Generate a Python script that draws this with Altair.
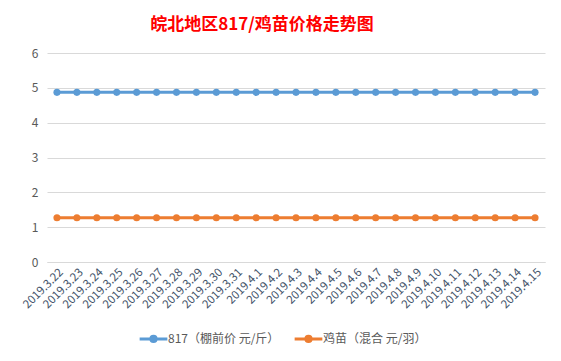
import altair as alt
import pandas as pd

dates = ["2019.3.22", "2019.3.23", "2019.3.24", "2019.3.25", "2019.3.26", "2019.3.27",
         "2019.3.28", "2019.3.29", "2019.3.30", "2019.3.31", "2019.4.1", "2019.4.2",
         "2019.4.3", "2019.4.4", "2019.4.5", "2019.4.6", "2019.4.7", "2019.4.8",
         "2019.4.9", "2019.4.10", "2019.4.11", "2019.4.12", "2019.4.13", "2019.4.14",
         "2019.4.15"]
series_names = ["817（棚前价 元/斤）", "鸡苗（混合 元/羽）"]
price_817 = [4.87] * 25
price_chick = [1.27] * 25
colors = ["#5b9bd5", "#ed7d31"]

rows = []
for d, v in zip(dates, price_817):
    rows.append({"date": d, "series": series_names[0], "value": v})
for d, v in zip(dates, price_chick):
    rows.append({"date": d, "series": series_names[1], "value": v})
df = pd.DataFrame(rows)

font = "Noto Sans CJK SC"
color = alt.Color("series:N",
                  scale=alt.Scale(domain=series_names, range=colors),
                  sort=series_names,
                  legend=alt.Legend(title=None, orient="none", direction="horizontal",
                                    legendX=96, legendY=275,
                                    symbolType="M-1.6,0H1.6M-0.3,0A0.3,0.3 0 1,0 0.3,0A0.3,0.3 0 1,0 -0.3,0Z",
                                    symbolSize=300, symbolStrokeWidth=3,
                                    labelFont=font, labelFontSize=12, labelColor="#595959",
                                    columnPadding=8, labelOffset=4))

x = alt.X("date:O", sort=dates, title=None,
          axis=alt.Axis(labelAngle=-45, labelFont=font, labelFontSize=11.5, labelColor="#44546a",
                        ticks=False, domainColor="#d9d9d9", labelPadding=4))
y = alt.Y("value:Q", title=None, scale=alt.Scale(domain=[0, 6]),
          axis=alt.Axis(values=[0, 1, 2, 3, 4, 5, 6], domain=False, ticks=False,
                        gridColor="#d9d9d9", labelFont=font, labelFontSize=12,
                        labelColor="#595959", labelPadding=9))

base = alt.Chart(df).encode(x=x, y=y, color=color)
lines = base.mark_line(strokeWidth=3)
points = base.mark_point(filled=True, size=50, opacity=1)

chart = (lines + points).properties(
    width=498, height=209,
    title=alt.TitleParams("皖北地区817/鸡苗价格走势图", font=font, fontSize=17,
                          fontWeight="bold", color="#ff0000", offset=13, dx=-34),
    padding={"left": 12, "top": 8, "right": 5, "bottom": 5},
    background="white",
).configure_view(stroke=None)

chart.save("out.html", embed_options={"renderer": "svg", "actions": False})
